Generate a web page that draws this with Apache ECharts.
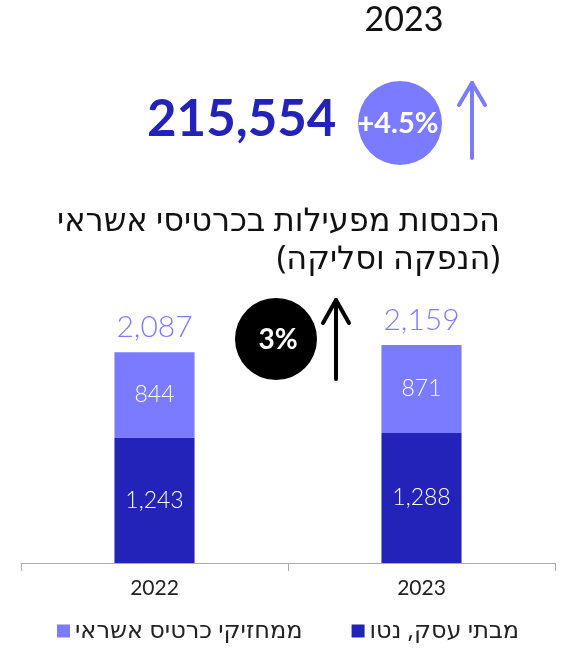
<!DOCTYPE html>
<html>
<head>
<meta charset="utf-8">
<script src="https://cdn.jsdelivr.net/npm/echarts@6/dist/echarts.min.js"></script>
<style>
    html, body { margin: 0; padding: 0; background: #fff; }
    #charts { width: 564px; height: 651px; }
</style>
</head>
<body>
<div id="charts"></div>
<script>
    // נתונים
    var years = ['2022', '2023'];
    var merchants = [1243, 1288];      // מבתי עסק, נטו
    var cardholders = [844, 871];      // ממחזיקי כרטיס אשראי
    var totals = [2087, 2159];

    var dark = '#2323b9';
    var light = '#7b7bff';
    var font = 'Lato, "DejaVu Sans", sans-serif';
    var heb = '"Noto Sans", "DejaVu Sans", sans-serif';

    function fmt(v) {
        return String(v).replace(/\B(?=(\d{3})+(?!\d))/g, ',');
    }

    var myCharts = echarts.init(document.getElementById('charts'));
    myCharts.setOption({
        animation: false,
        textStyle: { fontFamily: font },
        grid: { left: 21, right: 9, top: 260, bottom: 88 },
        legend: {
            data: ['ממחזיקי כרטיס אשראי', 'מבתי עסק, נטו'],
            bottom: 3,
            left: 52,
            itemGap: 49,
            itemWidth: 13,
            itemHeight: 13,
            icon: 'rect',
            textStyle: { fontSize: 24, color: '#222', fontFamily: heb }
        },
        xAxis: {
            type: 'category',
            data: years,
            axisLine: { lineStyle: { color: '#aaa' } },
            axisTick: { show: true, length: 8, lineStyle: { color: '#aaa' } },
            axisLabel: { fontSize: 21, color: '#222', margin: 15 }
        },
        yAxis: {
            type: 'value',
            min: 0,
            max: 3000,
            show: false,
            splitLine: { show: false }
        },
        series: [
            {
                name: 'מבתי עסק, נטו',
                type: 'bar',
                stack: 'total',
                barWidth: '30%',
                itemStyle: { color: dark },
                label: {
                    show: true,
                    position: 'inside',
                    color: '#fff',
                    fontSize: 23,
                    fontWeight: 300,
                    formatter: function (p) { return fmt(p.value); }
                },
                data: merchants
            },
            {
                name: 'ממחזיקי כרטיס אשראי',
                type: 'bar',
                stack: 'total',
                itemStyle: { color: light },
                label: {
                    show: true,
                    position: 'inside',
                    color: '#fff',
                    fontSize: 23,
                    fontWeight: 300,
                    formatter: function (p) { return fmt(p.value); }
                },
                data: cardholders
            },
            {
                name: 'סה"כ',
                type: 'bar',
                stack: 'total',
                itemStyle: { color: 'rgba(0,0,0,0)' },
                label: {
                    show: true,
                    position: 'top',
                    distance: 10,
                    color: light,
                    fontSize: 30,
                    fontWeight: 300,
                    formatter: function (p) { return fmt(totals[p.dataIndex]); }
                },
                data: [0, 0]
            }
        ],
        graphic: [
            {
                type: 'text', x: 404, y: 20,
                style: { text: '2023', fontSize: 34, fill: '#111', align: 'center', verticalAlign: 'middle', fontFamily: font }
            },
            {
                type: 'text', x: 147, y: 120,
                style: { text: '215,554', fontSize: 51, fontWeight: 'bold', fill: dark, verticalAlign: 'middle', fontFamily: font }
            },
            {
                type: 'circle', shape: { cx: 400, cy: 123, r: 42 },
                style: { fill: light }
            },
            {
                type: 'text', x: 398, y: 124,
                style: { text: '+4.5%', fontSize: 29, fontWeight: 'bold', fill: '#fff', align: 'center', verticalAlign: 'middle', fontFamily: font }
            },
            {
                type: 'polyline', shape: { points: [[472, 158], [472, 83]] },
                style: { stroke: light, lineWidth: 4, lineCap: 'round' }
            },
            {
                type: 'polyline', shape: { points: [[459, 105], [472, 83], [485, 105]] },
                style: { stroke: light, lineWidth: 4, lineCap: 'round', lineJoin: 'round', fill: null }
            },
            {
                type: 'text', x: 500, y: 222,
                style: { text: 'הכנסות מפעילות בכרטיסי אשראי', fontSize: 32, fill: '#111', align: 'right', verticalAlign: 'middle', fontFamily: heb }
            },
            {
                type: 'text', x: 500, y: 260,
                style: { text: '(הנפקה וסליקה)', fontSize: 32, fill: '#111', align: 'right', verticalAlign: 'middle', fontFamily: heb }
            },
            {
                type: 'circle', shape: { cx: 276, cy: 339, r: 41 },
                style: { fill: '#000' }
            },
            {
                type: 'text', x: 278, y: 340,
                style: { text: '3%', fontSize: 28, fontWeight: 'bold', fill: '#fff', align: 'center', verticalAlign: 'middle', fontFamily: font }
            },
            {
                type: 'polyline', shape: { points: [[336, 379], [336, 300]] },
                style: { stroke: '#000', lineWidth: 4, lineCap: 'round' }
            },
            {
                type: 'polyline', shape: { points: [[323, 323], [336, 300], [349, 323]] },
                style: { stroke: '#000', lineWidth: 4, lineCap: 'round', lineJoin: 'round', fill: null }
            }
        ]
    });
</script>
</body>
</html>
